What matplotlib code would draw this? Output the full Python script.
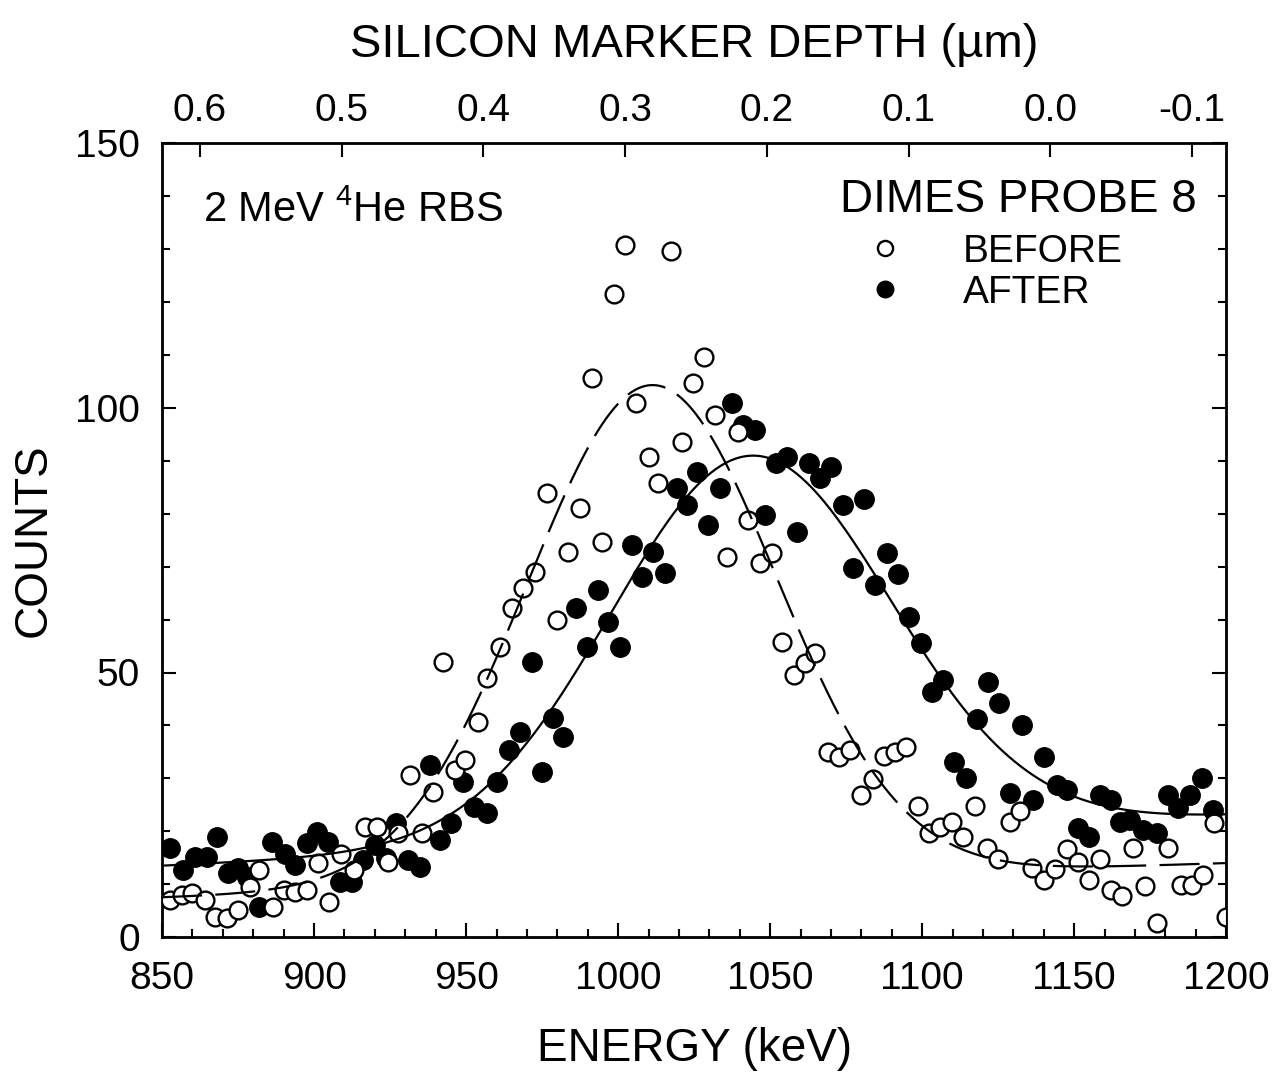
import numpy as np
import matplotlib
matplotlib.use('Agg')
import matplotlib.pyplot as plt
from matplotlib.ticker import MultipleLocator, FixedLocator

plt.rcParams['font.family'] = ['Liberation Sans', 'DejaVu Sans']
plt.rcParams['mathtext.fontset'] = 'custom'
plt.rcParams['mathtext.rm'] = 'Liberation Sans'

# BEFORE (open circles): energy (keV), counts
e_before = [852.6, 856.5, 860.0, 864.0, 867.4, 871.3, 875.0, 879.0, 882.0, 886.5,
            890.0, 893.8, 897.6, 901.3, 905.0, 909.0, 913.0, 916.8, 920.7, 924.3,
            927.6, 931.6, 935.5, 939.0, 942.4, 946.4, 949.7, 954.0, 957.0, 961.0,
            965.0, 968.8, 972.7, 976.6, 980.0, 983.6, 987.5, 991.4, 994.7, 998.7,
            1002.3, 1006.0, 1010.0, 1013.0, 1017.4, 1021.0, 1024.7, 1028.3, 1032.0, 1035.8,
            1039.5, 1042.8, 1046.7, 1050.6, 1054.0, 1057.9, 1061.5, 1064.8, 1069.0, 1072.7,
            1076.3, 1080.0, 1083.9, 1087.5, 1091.0, 1094.7, 1098.7, 1102.3, 1106.0, 1109.9,
            1113.5, 1117.4, 1121.4, 1125.0, 1129.0, 1132.2, 1136.0, 1140.0, 1143.8, 1147.7,
            1151.3, 1155.0, 1158.5, 1162.2, 1165.8, 1169.4, 1173.4, 1177.3, 1181.0, 1185.0,
            1188.8, 1192.4, 1196.0, 1200.0]
c_before = [7.0, 7.9, 8.3, 7.0, 3.8, 3.6, 5.1, 9.5, 12.7, 5.7,
            8.9, 8.5, 8.9, 14.0, 6.6, 15.8, 12.7, 20.8, 20.8, 14.2,
            19.6, 30.6, 19.6, 27.4, 52.0, 31.6, 33.4, 40.6, 48.9, 54.8,
            62.2, 65.9, 69.0, 83.9, 59.9, 72.7, 81.0, 105.6, 74.6, 121.5,
            130.7, 100.9, 90.7, 85.8, 129.6, 93.5, 104.7, 109.6, 98.6, 71.8,
            95.4, 78.8, 70.7, 72.5, 55.7, 49.5, 51.8, 53.6, 35.0, 34.0,
            35.3, 26.8, 29.8, 34.2, 35.0, 35.9, 24.7, 19.6, 20.8, 21.7,
            18.9, 24.7, 16.8, 14.7, 21.7, 23.8, 13.0, 10.8, 12.8, 16.6,
            14.2, 10.8, 14.7, 8.9, 7.7, 16.8, 9.6, 2.6, 16.8, 9.8,
            9.8, 11.7, 21.5, 3.8]

# AFTER (filled circles)
e_after = [852.6, 857.0, 861.0, 864.8, 868.0, 871.7, 875.0, 878.0, 882.0, 886.0,
           890.5, 893.8, 897.6, 901.0, 904.6, 908.5, 912.5, 916.0, 920.0, 923.5,
           927.0, 931.0, 935.0, 938.0, 941.5, 945.0, 949.0, 952.6, 957.0, 960.0,
           964.0, 967.8, 971.7, 975.0, 978.6, 982.0, 986.0, 989.8, 993.4, 996.7,
           1000.6, 1004.6, 1008.0, 1011.5, 1015.5, 1019.4, 1022.7, 1026.0, 1029.6, 1033.5,
           1037.5, 1041.0, 1045.0, 1048.4, 1052.0, 1055.6, 1058.9, 1062.8, 1066.4, 1070.0,
           1074.0, 1077.3, 1081.0, 1084.5, 1088.5, 1092.0, 1095.7, 1099.7, 1103.3, 1107.0,
           1110.5, 1114.5, 1118.0, 1121.7, 1125.3, 1129.0, 1132.9, 1136.5, 1140.0, 1144.4,
           1147.7, 1151.3, 1155.0, 1158.5, 1162.2, 1165.0, 1168.4, 1172.7, 1177.3, 1181.0,
           1184.0, 1188.0, 1192.0, 1195.7]
c_after = [16.8, 12.7, 15.1, 15.1, 18.9, 12.1, 13.0, 11.3, 5.7, 18.0,
           15.8, 13.6, 17.8, 19.8, 18.0, 10.4, 10.4, 14.5, 17.4, 14.9,
           21.5, 14.5, 13.3, 32.5, 18.3, 21.5, 29.3, 24.6, 23.4, 29.3,
           35.3, 38.7, 52.0, 31.2, 41.4, 37.8, 62.2, 54.8, 65.6, 59.5,
           54.8, 74.0, 68.0, 72.7, 68.8, 84.8, 81.6, 87.9, 77.8, 84.8,
           101.0, 96.7, 95.8, 79.7, 89.5, 90.7, 76.5, 89.5, 86.7, 88.8,
           81.6, 69.7, 82.8, 66.5, 72.5, 68.6, 60.5, 55.5, 46.3, 48.6,
           33.0, 30.0, 41.2, 48.2, 44.2, 27.2, 40.0, 25.9, 34.0, 28.7,
           27.8, 20.6, 18.9, 26.8, 25.9, 21.7, 22.1, 20.2, 19.6, 26.8,
           24.4, 26.8, 30.0, 24.0]

# gaussian fits on a linear background: left base, right base, amplitude, centre, sigma
fit_before = (7.5, 14.0, 93.8, 1011.0, 41.0)
fit_after = (13.5, 23.0, 72.2, 1043.6, 45.9)

e_min, e_max = 850, 1200
depth_ticks = [0.6, 0.5, 0.4, 0.3, 0.2, 0.1, 0.0, -0.1]
e_depth0 = 1142.1      # energy at zero depth (keV)
kev_per_um = 466.0


def fit_curve(e, p):
    bl, br, amp, cen, sig = p
    base = bl + (br - bl) * (e - e_min) / (e_max - e_min)
    return base + amp * np.exp(-(e - cen) ** 2 / (2 * sig ** 2))


def depth(e):
    return (e_depth0 - np.asarray(e)) / kev_per_um


fig = plt.figure(figsize=(12.76, 10.76), dpi=100)
ax = fig.add_axes([0.127, 0.129, 0.834, 0.738])

e_fine = np.linspace(e_min, e_max, 700)

ax.plot(e_after, c_after, 'o', ms=14, mfc='black', mec='black', mew=1.0,
        zorder=2, label='AFTER')
ax.plot(e_before, c_before, 'o', ms=12.8, mfc='white', mec='black', mew=1.7,
        zorder=3, label='BEFORE')
ax.plot(e_fine, fit_curve(e_fine, fit_before), color='black', lw=1.6,
        dashes=(18, 6), zorder=4)
ax.plot(e_fine, fit_curve(e_fine, fit_after), color='black', lw=1.6, zorder=4)

ax.set_xlim(e_min, e_max)
ax.set_ylim(0, 150)
ax.xaxis.set_major_locator(MultipleLocator(50))
ax.xaxis.set_minor_locator(MultipleLocator(10))
ax.yaxis.set_major_locator(MultipleLocator(50))
ax.yaxis.set_minor_locator(MultipleLocator(10))
ax.tick_params(which='both', direction='in', top=False, right=True, width=1.5)
ax.tick_params(which='major', length=10, labelsize=28)
ax.tick_params(which='minor', length=6)
ax.tick_params(axis='x', pad=17)
ax.tick_params(axis='y', pad=16)
for s in ax.spines.values():
    s.set_linewidth(2)

ax.set_xlabel('ENERGY (keV)', fontsize=33, labelpad=22)
ax.set_ylabel('COUNTS', fontsize=33, labelpad=14)

ax2 = ax.twiny()
ax2.set_xlim(depth(e_min), depth(e_max))
ax2.xaxis.set_major_locator(FixedLocator(depth_ticks))
ax2.set_xticklabels(['%.1f' % d for d in depth_ticks])
ax2.tick_params(direction='in', length=10, width=1.5, labelsize=28, pad=10)
ax2.set_xlabel('SILICON MARKER DEPTH (\u00b5m)', fontsize=34, labelpad=26)

ax.text(0.0385, 0.9005, r'2 MeV $\mathregular{^4}$He RBS', transform=ax.transAxes,
        fontsize=30, va='baseline', ha='left')
ax.text(0.9727, 0.913, 'DIMES PROBE 8', transform=ax.transAxes,
        fontsize=33, va='baseline', ha='right')

h, l = ax.get_legend_handles_labels()
leg = ax.legend([h[1], h[0]], [l[1], l[0]], loc='upper left',
                bbox_to_anchor=(0.661, 0.886), frameon=False, fontsize=28,
                handlelength=1.0, handletextpad=1.5, labelspacing=0.13,
                borderpad=0, borderaxespad=0, numpoints=1, markerscale=0.85)

fig.savefig('out.png', dpi=100)
